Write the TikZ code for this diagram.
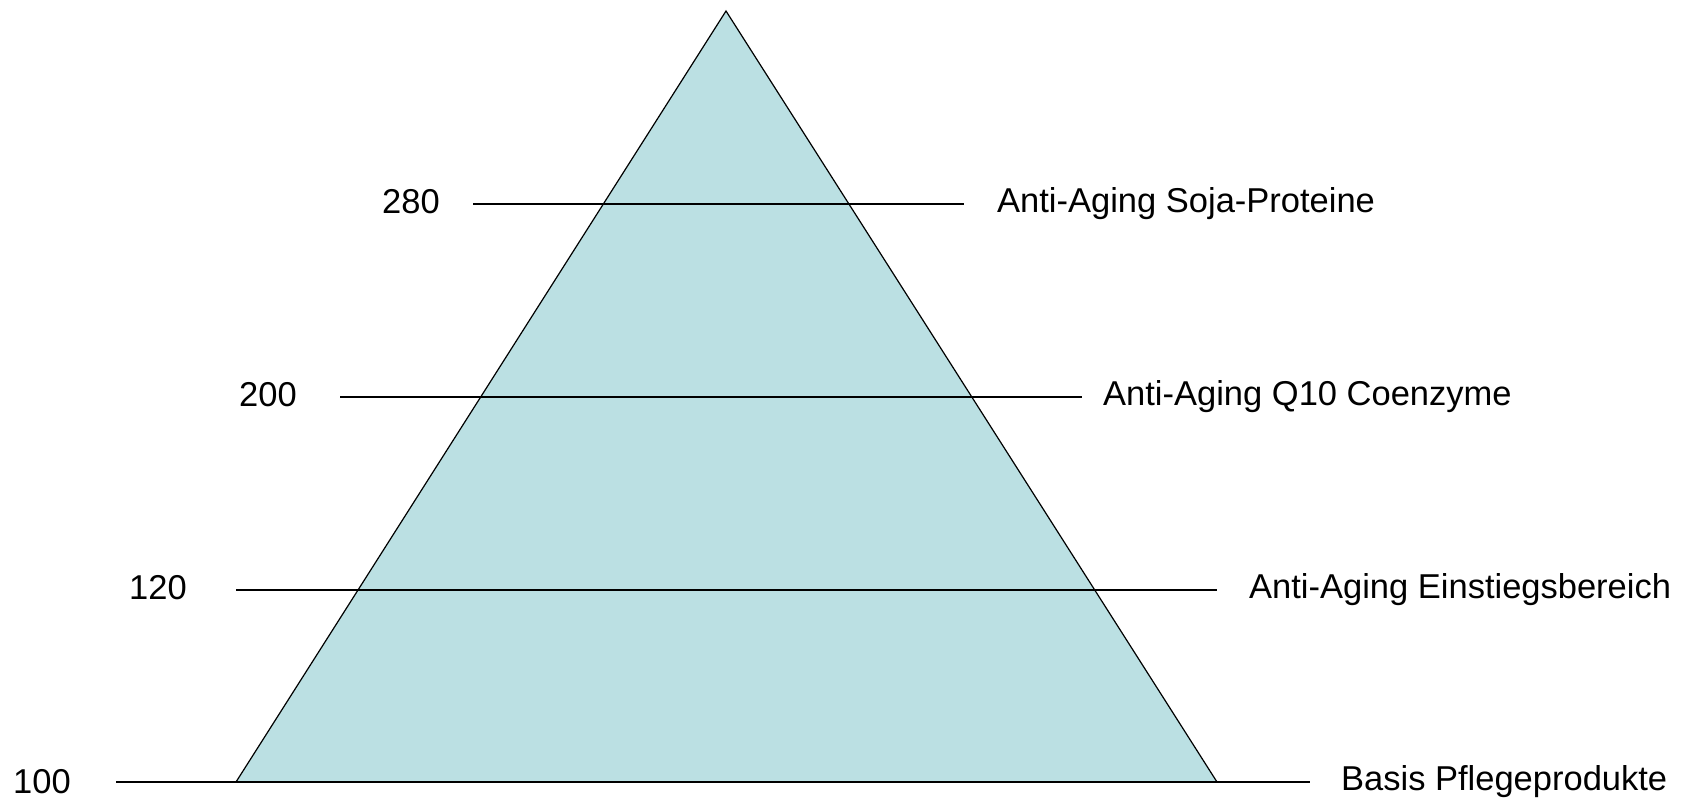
\documentclass[tikz,border=0pt]{standalone}
\usepackage{fontspec}
\setmainfont{Liberation Sans}
\definecolor{pyrfill}{RGB}{187,224,227}
\begin{document}
\begin{tikzpicture}[x=1pt,y=-1pt,
  lbl/.style={anchor=west,inner sep=0pt,font=\fontsize{34.5}{38}\selectfont},
  rule/.style={line width=1.2pt,black}]
\useasboundingbox (0,0) rectangle (1687,802);
% triangle
\coordinate (apex) at (726,11);
\coordinate (bl) at (236,782);
\coordinate (br) at (1217,782);
\filldraw[fill=pyrfill,draw=black,line width=1.2pt,line join=miter] (apex) -- (bl) -- (br) -- cycle;
% level lines
\coordinate (a1) at (473,204); \coordinate (b1) at (964,204);
\coordinate (a2) at (340,397); \coordinate (b2) at (1082,397);
\coordinate (a3) at (236,590); \coordinate (b3) at (1217,590);
\coordinate (a4) at (116,782); \coordinate (b4) at (1310,782);
\draw[rule] (a1) -- (b1);
\draw[rule] (a2) -- (b2);
\draw[rule] (a3) -- (b3);
\draw[rule] (a4) -- (b4);
% numbers
\node[lbl] (n1) at (382,202) {280};
\node[lbl] (n2) at (239,395) {200};
\node[lbl] (n3) at (129,588) {120};
\node[lbl] (n4) at (13,782) {100};
% labels
\node[lbl] (t1) at (997,204) {Anti-Aging Soja-Proteine};
\node[lbl] (t2) at (1103,397) {Anti-Aging Q10 Coenzyme};
\node[lbl] (t3) at (1249,590) {Anti-Aging Einstiegsbereich};
\node[lbl] (t4) at (1341,782) {Basis Pflegeprodukte};
\end{tikzpicture}
\end{document}
